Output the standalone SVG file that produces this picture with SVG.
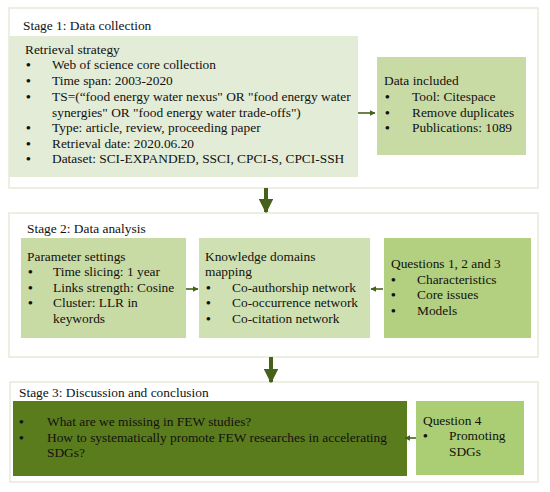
<svg xmlns="http://www.w3.org/2000/svg" width="550" height="492" viewBox="0 0 550 492">
<style>
text{font-family:"Liberation Serif","Times New Roman",serif;font-size:13.4px;fill:#111}
text.bu{font-size:13.4px;font-weight:bold}
.stage{fill:#fff;stroke:#e6ead8;stroke-width:1.5}
.b1{fill:#e3ecd6}
.b2{fill:#c8dba5}
.b3{fill:#cfe1b2}
.b4{fill:#b2d07f}
.b5{fill:#5b7c1d}
.b6{fill:#abce74}
.conn{stroke:#46621a;fill:none}
.thin{stroke-width:1.6}
.thick{stroke-width:4}
</style>
<defs>
<marker id="ah" viewBox="0 0 10 10" refX="9" refY="5" markerWidth="3.6" markerHeight="3.6" orient="auto" markerUnits="strokeWidth">
<path d="M0,0 L10,5 L0,10 z" fill="#46621a"/>
</marker>
<marker id="ahb" viewBox="0 0 10 10" refX="9" refY="5" markerWidth="3.6" markerHeight="3.6" orient="auto" markerUnits="strokeWidth">
<path d="M0,0 L10,5 L0,10 z" fill="#46621a"/>
</marker>
</defs>
<rect x="0" y="0" width="550" height="492" fill="#fff"/>

<g id="stage1">
<rect class="stage" x="9" y="8" width="529" height="180"/>
<text x="23" y="30">Stage 1: Data collection</text>
</g>
<g id="retrieval">
<rect class="b1" x="9" y="36" width="349" height="141"/>
<text x="25" y="54">Retrieval strategy</text>
<text class="bu" x="26" y="69">•</text><text x="52" y="69">Web of science core collection</text>
<text class="bu" x="26" y="85">•</text><text x="52" y="85">Time span: 2003-2020</text>
<text class="bu" x="26" y="101">•</text><text x="52" y="101">TS=(“food energy water nexus" OR "food energy water</text>
<text x="52" y="117">synergies" OR "food energy water trade-offs")</text>
<text class="bu" x="26" y="132">•</text><text x="52" y="132">Type: article, review, proceeding paper</text>
<text class="bu" x="26" y="148">•</text><text x="52" y="148">Retrieval date: 2020.06.20</text>
<text class="bu" x="26" y="163">•</text><text x="52" y="163">Dataset: SCI-EXPANDED, SSCI, CPCI-S, CPCI-SSH</text>
</g>
<g id="datainc">
<rect class="b2" x="377" y="57" width="149" height="98"/>
<text x="384" y="85">Data included</text>
<text class="bu" x="385" y="101">•</text><text x="412" y="101">Tool: Citespace</text>
<text class="bu" x="385" y="117">•</text><text x="412" y="117">Remove duplicates</text>
<text class="bu" x="385" y="132">•</text><text x="412" y="132">Publications: 1089</text>
</g>

<g id="stage2">
<rect class="stage" x="9" y="213" width="529" height="144"/>
<text x="27" y="233">Stage 2: Data analysis</text>
</g>
<g id="params">
<rect class="b2" x="21" y="238" width="165" height="100"/>
<text x="27" y="261">Parameter settings</text>
<text class="bu" x="28" y="276">•</text><text x="53" y="276">Time slicing: 1 year</text>
<text class="bu" x="28" y="292">•</text><text x="53" y="292">Links strength: Cosine</text>
<text class="bu" x="28" y="307">•</text><text x="53" y="307">Cluster: LLR in</text>
<text x="53" y="323">keywords</text>
</g>
<g id="knowledge">
<rect class="b3" x="199" y="238" width="171" height="100"/>
<text x="205" y="261">Knowledge domains</text>
<text x="205" y="276">mapping</text>
<text class="bu" x="206" y="292">•</text><text x="232" y="292">Co-authorship network</text>
<text class="bu" x="206" y="307">•</text><text x="232" y="307">Co-occurrence network</text>
<text class="bu" x="206" y="323">•</text><text x="232" y="323">Co-citation network</text>
</g>
<g id="questions">
<rect class="b4" x="384" y="238" width="147" height="100"/>
<text x="391" y="268">Questions 1, 2 and 3</text>
<text class="bu" x="391" y="284">•</text><text x="417" y="284">Characteristics</text>
<text class="bu" x="391" y="299">•</text><text x="417" y="299">Core issues</text>
<text class="bu" x="391" y="315">•</text><text x="417" y="315">Models</text>
</g>

<g id="stage3">
<rect class="stage" x="10" y="382" width="528" height="100"/>
<text x="19" y="397">Stage 3: Discussion and conclusion</text>
</g>
<g id="discussion">
<rect class="b5" x="13" y="401" width="394" height="75"/>
<text class="bu" x="19" y="426">•</text><text x="47" y="426">What are we missing in FEW studies?</text>
<text class="bu" x="19" y="442">•</text><text x="47" y="442">How to systematically promote FEW researches in accelerating</text>
<text x="47" y="457">SDGs?</text>
</g>
<g id="question4">
<rect class="b6" x="416" y="401" width="108" height="74"/>
<text x="423" y="425">Question 4</text>
<text class="bu" x="423" y="440">•</text><text x="449" y="440">Promoting</text>
<text x="449" y="456">SDGs</text>
</g>

<g id="connectors">
<line class="conn thin" x1="358" y1="113" x2="375" y2="113" marker-end="url(#ah)"/>
<line class="conn thin" x1="186" y1="289" x2="198" y2="289" marker-end="url(#ah)"/>
<line class="conn thin" x1="383" y1="289" x2="371" y2="289" marker-end="url(#ah)"/>
<line class="conn thin" x1="416" y1="438" x2="405" y2="438" marker-end="url(#ah)"/>
<line class="conn thick" x1="266" y1="188" x2="266" y2="212" marker-end="url(#ahb)"/>
<line class="conn thick" x1="271" y1="357" x2="271" y2="382" marker-end="url(#ahb)"/>
</g>
</svg>
